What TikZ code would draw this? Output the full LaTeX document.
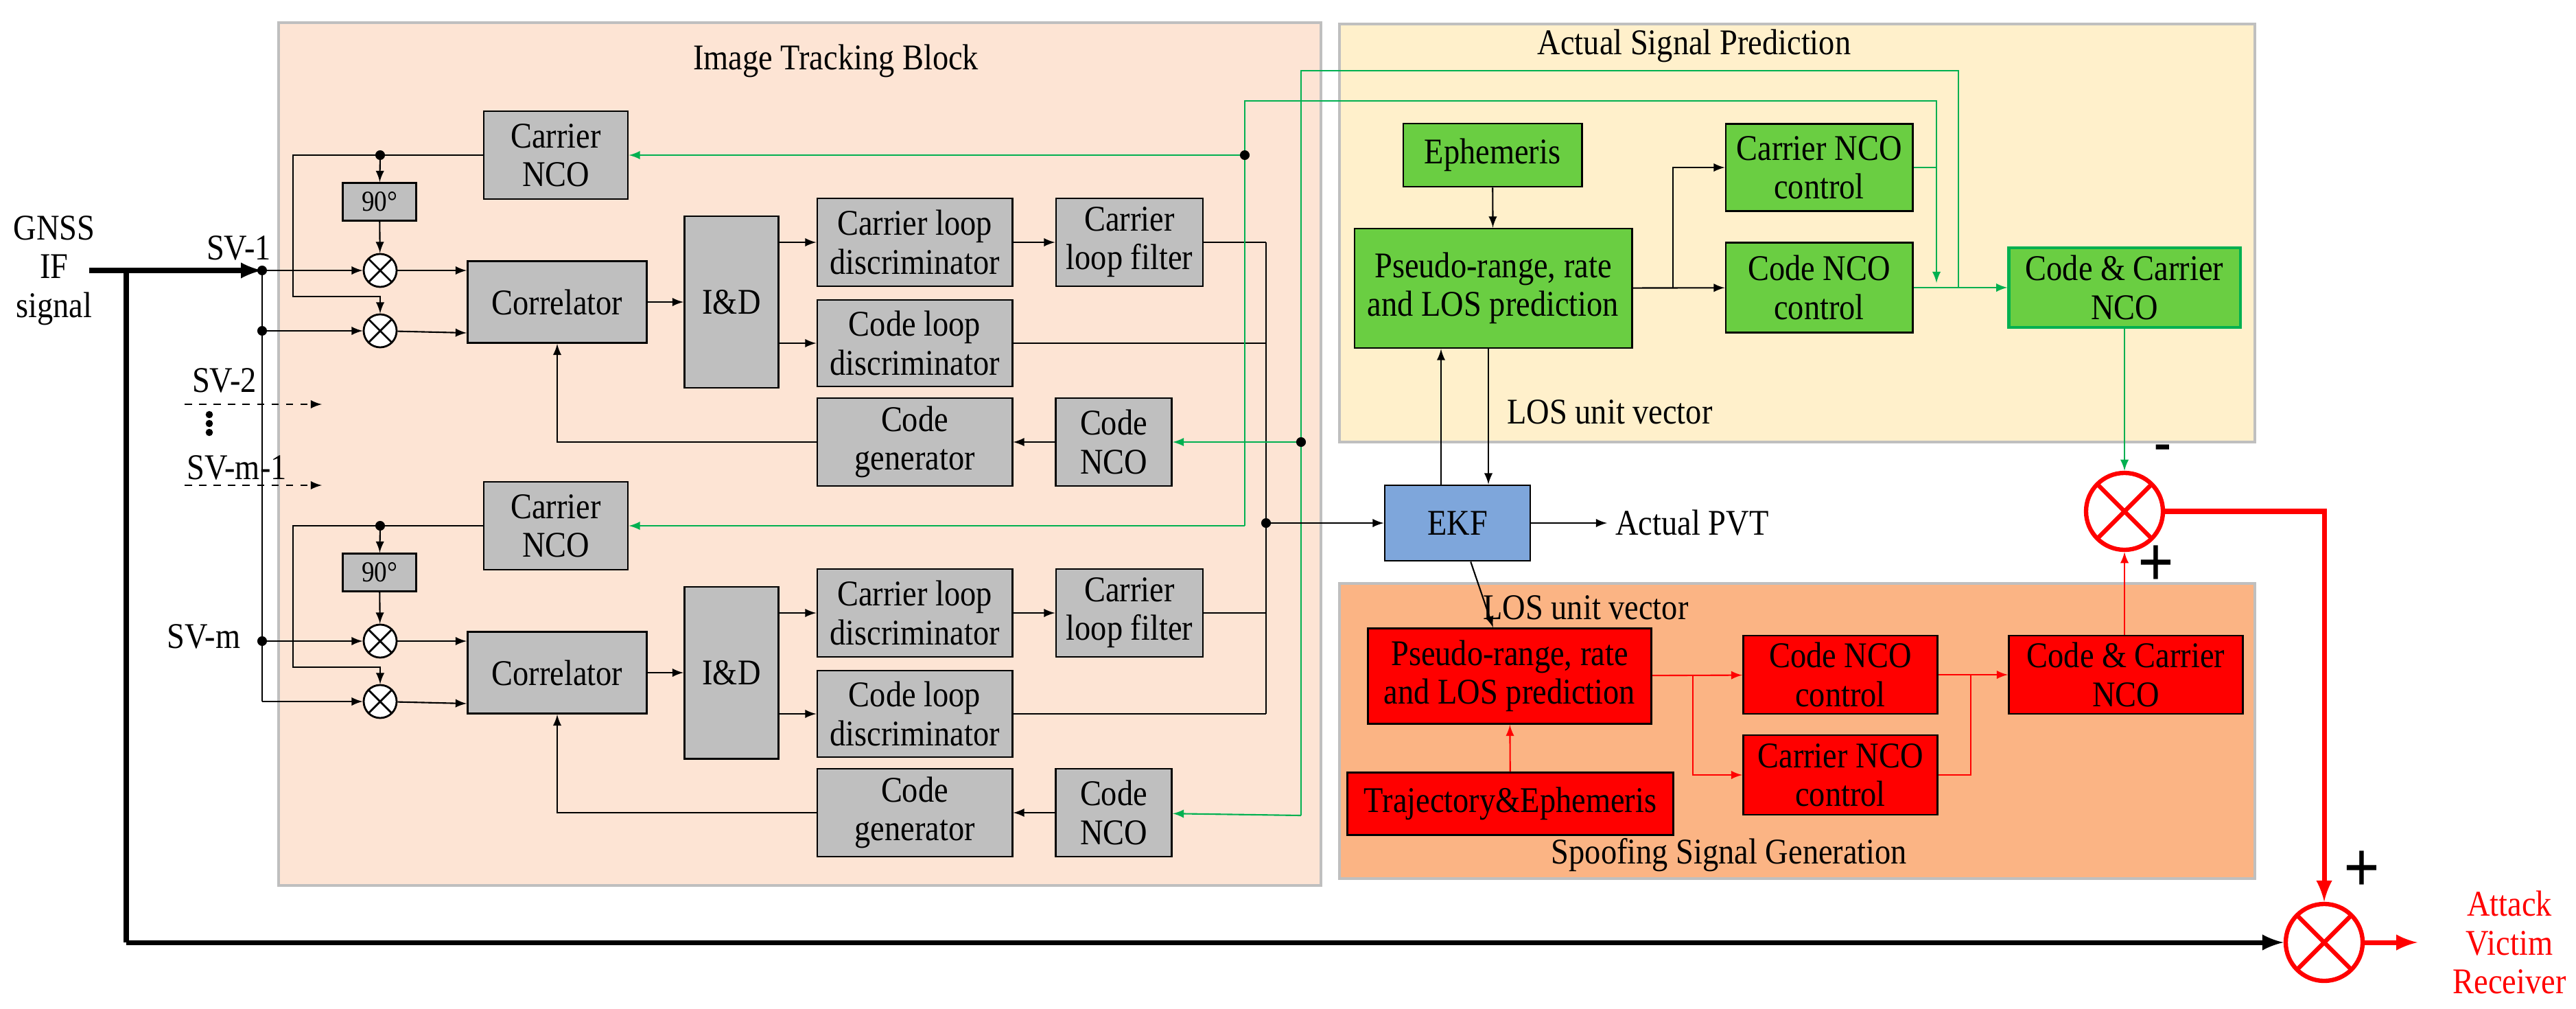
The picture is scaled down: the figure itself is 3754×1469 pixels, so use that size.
\documentclass[tikz,border=0pt]{standalone}
\usepackage{fontspec}
\setmainfont{Liberation Serif}[FakeStretch=0.88]
\usetikzlibrary{calc}
\definecolor{peach}{RGB}{253,228,212}
\definecolor{cream}{RGB}{255,240,203}
\definecolor{salmon}{RGB}{251,180,132}
\definecolor{greybox}{RGB}{191,191,191}
\definecolor{leaf}{RGB}{106,206,66}
\definecolor{wire}{RGB}{0,176,80}
\definecolor{ekfblue}{RGB}{126,166,219}
\begin{document}
\begin{tikzpicture}[x=0.01cm,y=-0.01cm,>=latex,font=\fontsize{15}{16}\selectfont]

% Styles til elementer
\tikzstyle{area} = [draw=greybox, line width=1pt]
\tikzstyle{blk}  = [rectangle, draw, thick, fill=greybox, align=center, inner sep=1pt]
\tikzstyle{gblk} = [rectangle, draw, thick, fill=leaf, align=center, inner sep=1pt]
\tikzstyle{rblk} = [rectangle, draw, thick, fill=red, align=center, inner sep=1pt]
\tikzstyle{mix}  = [circle, draw, thick, fill=white, minimum size=0.48cm, inner sep=0pt,
  path picture={\draw[thick] (path picture bounding box.south west) -- (path picture bounding box.north east)
  (path picture bounding box.north west) -- (path picture bounding box.south east);}]
\tikzstyle{bigmix} = [circle, draw=red, line width=1.8pt, minimum size=1.12cm, inner sep=0pt,
  path picture={\draw[red, line width=1.8pt] (path picture bounding box.south west) -- (path picture bounding box.north east)
  (path picture bounding box.north west) -- (path picture bounding box.south east);}]
\tikzstyle{gline} = [wire, semithick]
\tikzstyle{rline} = [red, semithick]
\tikzstyle{dot} = [circle, fill, inner sep=0pt, minimum size=4pt]

\useasboundingbox (0,0) rectangle (3754,1469);

	% Bakgrunner
	\draw[area, fill=peach] (406,33) rectangle (1925,1290);
	\draw[area, fill=cream] (1952,35) rectangle (3286,644);
	\draw[area, fill=salmon] (1952,850) rectangle (3286,1280);
	\node (track_title) at (1218,89) {Image Tracking Block};
	\node (pred_title) at (2469,67) {Actual Signal Prediction};
	\node (spoof_title) at (2520,1246) {Spoofing Signal Generation};

	% Kanaler
	\foreach \i/\o in {1/0, 2/540} {
		\node[blk, minimum width=2.10cm, minimum height=1.28cm] (cnco\i) at (810,226+\o) {Carrier\\NCO};
		\node[blk, minimum width=1.07cm, minimum height=0.55cm, font=\fontsize{12}{13}\selectfont] (ph\i) at (553,294+\o) {90°};
		\node[mix] (mixa\i) at (554,394+\o) {};
		\node[mix] (mixb\i) at (554,482+\o) {};
		\node[blk, minimum width=2.61cm, minimum height=1.19cm] (corr\i) at (812,440+\o) {Correlator};
		\node[blk, minimum width=1.37cm, minimum height=2.50cm] (iad\i) at (1066,440+\o) {I\&D};
		\node[blk, minimum width=2.84cm, minimum height=1.28cm] (cld\i) at (1333,353+\o) {Carrier loop\\discriminator};
		\node[blk, minimum width=2.14cm, minimum height=1.28cm] (clf\i) at (1646,353+\o) {Carrier\\loop filter};
		\node[blk, minimum width=2.84cm, minimum height=1.26cm] (codld\i) at (1333,500+\o) {Code loop\\discriminator};
		\node[blk, minimum width=2.84cm, minimum height=1.28cm] (cgen\i) at (1333,644+\o) {Code\\generator};
		\node[blk, minimum width=1.69cm, minimum height=1.28cm] (cdnco\i) at (1623,644+\o) {Code\\NCO};
		\coordinate (tap\i) at (554,226+\o); % Forgrening
		\coordinate (loop\i) at (427,432+\o);
		\coordinate (sv\i) at (382,394+\o);
		\coordinate (svb\i) at (382,482+\o);
		\coordinate (cfout\i) at (1845,353+\o);
		\coordinate (cdout\i) at (1845,500+\o);
		\node[dot] at (tap\i) {};
		\draw[semithick] (cnco\i.west) -| (loop\i) -| (mixb\i.north) [->];
		\draw[semithick,->] (tap\i) -- (ph\i);
		\draw[semithick,->] (ph\i) -- (mixa\i);
		\draw[semithick,->] (sv\i) -- (mixa\i);
		\draw[semithick,->] (svb\i) -- (mixb\i);
		\draw[semithick,->] (mixa\i) -- (corr\i.west |- mixa\i);
		\draw[semithick,->] (mixb\i) -- ($(corr\i.west |- mixb\i)+(0,3)$);
		\draw[semithick,->] (corr\i) -- (iad\i);
		\draw[semithick,->] (iad\i.east |- cld\i) -- (cld\i);
		\draw[semithick,->] (iad\i.east |- codld\i) -- (codld\i);
		\draw[semithick,->] (cld\i) -- (clf\i);
		\draw[semithick] (clf\i) -- (cfout\i);
		\draw[semithick] (codld\i) -- (cdout\i);
		\draw[semithick,->] (cdnco\i) -- (cgen\i);
		\draw[semithick,->] (cgen\i.west) -| (corr\i.south);
	}
	\node[dot] at (sv1) {};
	\node[dot] at (svb1) {};
	\node[dot] at (sv2) {};
	\draw[semithick] (sv1) -- (svb2);
	\draw[semithick] (cfout1) -- (cdout2);

	% Inngang
	\node[align=center] (gnss) at (79,394) {GNSS\\IF\\signal};
	\coordinate (gin) at (130,394);
	\coordinate (gdown) at (184,394);
	\coordinate (gcorner) at (184,1373);
	\draw[line width=2pt,->] (gin) -- (sv1);
	\node (sv1_tekst) at (348,361) {SV-1};
	\node (sv2_tekst) at (327,554) {SV-2};
	\node (svm1_tekst) at (345,681) {SV-m-1};
	\node (svm_tekst) at (297,927) {SV-m};
	\coordinate (sv2a) at (269,589); \coordinate (sv2b) at (469,589);
	\coordinate (svm1a) at (269,707); \coordinate (svm1b) at (469,707);
	\draw[semithick,dashed,->] (sv2a) -- (sv2b);
	\draw[semithick,dashed,->] (svm1a) -- (svm1b);
	\foreach \y in {604,617,630} \fill (305,\y) circle (1.5pt); % Prikker

	% Actual Signal Prediction
	\node[gblk, minimum width=2.60cm, minimum height=0.92cm] (eph) at (2175,226) {Ephemeris};
	\node[gblk, minimum width=4.04cm, minimum height=1.74cm] (gpr) at (2176,420) {Pseudo-range, rate\\and LOS prediction};
	\node[gblk, minimum width=2.72cm, minimum height=1.27cm] (cnctl) at (2651,244) {Carrier NCO\\control};
	\node[gblk, minimum width=2.72cm, minimum height=1.31cm] (cdctl) at (2651,419) {Code NCO\\control};
	\node[gblk, draw=wire, line width=1.2pt, minimum width=3.37cm, minimum height=1.16cm] (gccnco) at (3096,419) {Code \& Carrier\\NCO};
	\draw[semithick,->] (eph) -- (gpr);
	\draw[semithick,->] (gpr) -- (cdctl);
	\coordinate (gsplit) at (2438,419);
	\draw[semithick,->] (gsplit) |- (cnctl.west);
	\draw[gline,->] (cdctl) -- (gccnco);

	% Tilbakekobling
	\coordinate (cnup) at (2822,244);
	\coordinate (cnjoin) at (2822,412);
	\coordinate (cntop) at (1814,147);
	\coordinate (cnlow) at (1814,766);
	\coordinate (gc) at (1814,226);
	\coordinate (cdup) at (2854,419);
	\coordinate (cdtop) at (1896,103);
	\coordinate (cdlow) at (1896,1188);
	\coordinate (gd) at (1896,644);
	\draw[gline] (cnctl) -- (cnup);
	\draw[gline,->] (cnup) -- (cnjoin);
	\draw[gline] (cnup) |- (cntop) -- (cnlow);
	\draw[gline,->] (gc) -- (cnco1);
	\draw[gline,->] (cnlow) -- (cnco2);
	\draw[gline] (cdup) |- (cdtop) -- (cdlow);
	\draw[gline,->] (gd) -- (cdnco1);
	\draw[gline,->] (cdlow) -- (cdnco2);
	\node[dot] at (gc) {};
	\node[dot] at (gd) {};

	% EKF
	\node[rectangle, draw, thick, fill=ekfblue, minimum width=2.12cm, minimum height=1.10cm] (ekf) at (2124,762) {EKF};
	\coordinate (bus) at (1845,762);
	\node[dot] at (bus) {};
	\draw[semithick,->] (bus) -- (ekf);
	\node[anchor=west] (pvt) at (2342,762) {Actual PVT};
	\draw[semithick,->] (ekf) -- (pvt);
	\draw[semithick,->] ([xshift=-0.24cm]ekf.north) -- ([xshift=-0.24cm]ekf.north |- gpr.south);
	\draw[semithick,->] ([xshift=0.45cm]ekf.north |- gpr.south) -- ([xshift=0.45cm]ekf.north);
	\node[anchor=west] (los1) at (2184,600) {LOS unit vector};
	\node[anchor=west] (los2) at (2149,885) {LOS unit vector};

	% Spoofing Signal Generation
	\node[rblk, minimum width=4.13cm, minimum height=1.39cm] (rpr) at (2200,985) {Pseudo-range, rate\\and LOS prediction};
	\node[rblk, minimum width=4.75cm, minimum height=0.91cm] (traj) at (2201,1171) {Trajectory\&Ephemeris};
	\node[rblk, minimum width=2.83cm, minimum height=1.14cm] (rcdctl) at (2682,983) {Code NCO\\control};
	\node[rblk, minimum width=2.83cm, minimum height=1.16cm] (rcnctl) at (2682,1129) {Carrier NCO\\control};
	\node[rblk, minimum width=3.41cm, minimum height=1.14cm] (rccnco) at (3098,983) {Code \& Carrier\\NCO};
	\draw[semithick,->] (ekf) -- (rpr);
	\draw[rline,->] (traj) -- (rpr);
	\draw[rline,->] (rpr) -- (rcdctl);
	\coordinate (rsplit) at (2467,983);
	\coordinate (rjoin) at (2872,983);
	\draw[rline,->] (rsplit) |- (rcnctl);
	\draw[rline,->] (rcdctl) -- (rccnco);
	\draw[rline] (rcnctl) -| (rjoin);

	% Miksere
	\node[bigmix] (mixA) at (3096,745) {};
	\node[bigmix] (mixB) at (3387,1373) {};
	\draw[gline,->] (gccnco) -- (mixA);
	\draw[rline,->] (rccnco.north -| mixA) -- (mixA);
	\node[font=\bfseries\fontsize{24}{24}\selectfont] (minus) at (3152,660) {-};
	\node[font=\bfseries\fontsize{30}{30}\selectfont] (plus1) at (3142,825) {+};
	\node[font=\bfseries\fontsize{30}{30}\selectfont] (plus2) at (3442,1270) {+};
	\draw[red, line width=2pt,->] (mixA) -| (mixB);
	\draw[line width=2pt] (gdown) -- (gcorner);
	\draw[line width=2pt,->] (gcorner) -- (mixB);
	\node[red, align=center] (out) at (3657,1373) {Attack\\Victim\\Receiver};
	\coordinate (outend) at (3523,1373);
	\draw[red, line width=2pt,->] (mixB) -- (outend);

\end{tikzpicture}
\end{document}
